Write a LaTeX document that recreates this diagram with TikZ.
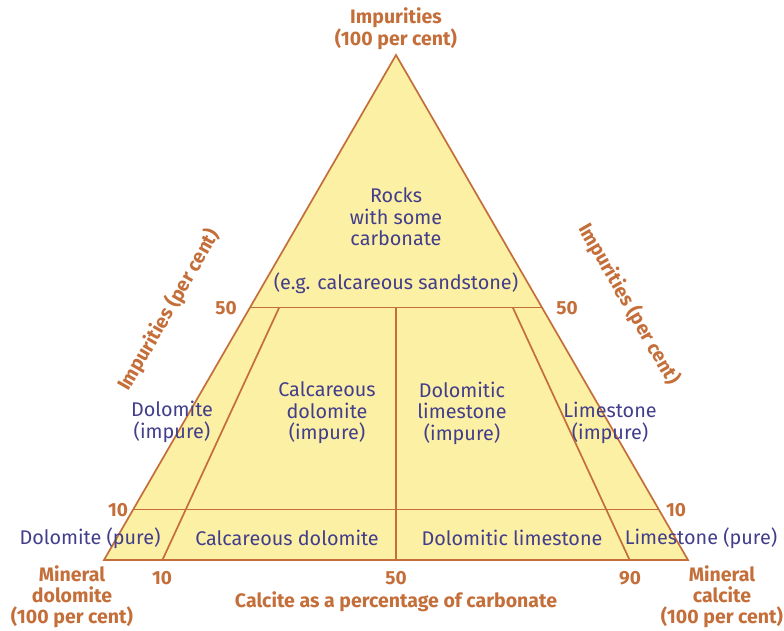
\documentclass[tikz,border=0pt]{standalone}
\usepackage{fontspec}
\setmainfont{Fira Sans}
\usetikzlibrary{calc}
\begin{document}
\begin{tikzpicture}[x=1pt,y=-1pt]
		% Couleurs et styles
		\definecolor{brique}{RGB}{196,110,58}
		\definecolor{sable}{RGB}{252,240,164}
		\definecolor{encre}{RGB}{66,62,140}
		\tikzstyle{trait}=[brique,line width=1.7pt,line join=miter]
		\tikzstyle{zone}=[encre,align=center,font=\fontsize{19.8}{21.5}\selectfont,inner sep=0pt]
		\tikzstyle{graduation}=[brique,font=\fontseries{sb}\fontsize{19}{20}\selectfont,inner sep=0pt]
		\tikzstyle{titre}=[brique,align=center,font=\fontseries{sb}\fontsize{19.5}{21}\selectfont,inner sep=0pt]
		% Dimensions
		\def\Gauche{104}
		\def\Droite{688}
		\def\Base{560}
		\def\Sommet{55}
		\useasboundingbox (0,0) rectangle (784,630);
		% Sommets et points
		\coordinate (A) at (396,\Sommet);
		\coordinate (D) at (\Gauche,\Base);
		\coordinate (C) at (\Droite,\Base);
		\coordinate (G50) at ($(D)!0.5!(A)$);
		\coordinate (D50) at ($(C)!0.5!(A)$);
		\coordinate (G10) at ($(D)!0.1!(A)$);
		\coordinate (D10) at ($(C)!0.1!(A)$);
		\coordinate (B10) at ($(D)!0.1!(C)$);
		\coordinate (B50) at ($(D)!0.5!(C)$);
		\coordinate (B90) at ($(D)!0.9!(C)$);
		\coordinate (H10) at ($(B10)!0.5!(A)$);
		\coordinate (H50) at ($(B50)!0.5!(A)$);
		\coordinate (H90) at ($(B90)!0.5!(A)$);
		% Triangle
		\fill[sable] (A)--(D)--(C)--cycle;
		\draw[trait] (G50)--(D50);
		\draw[trait] (G10)--(D10);
		\draw[trait] (B10)--(H10);
		\draw[trait] (B50)--(H50);
		\draw[trait] (B90)--(H90);
		\draw[trait] (A)--(D)--(C)--cycle;
		% Zones
		\node[zone] (roches) at (396,217) {Rocks\\with some\\carbonate};
		\node[zone] (exemple) at (396,283) {(e.g. calcareous sandstone)};
		\node[zone] (dolI) at (172,422) {Dolomite\\(impure)};
		\node[zone] (caldolI) at (327,413) {Calcareous\\dolomite\\(impure)};
		\node[zone] (dollimI) at (462,413) {Dolomitic\\limestone\\(impure)};
		\node[zone] (limI) at (610,423) {Limestone\\(impure)};
		\node[zone] (dolP) at (90,538) {Dolomite (pure)};
		\node[zone] (caldolP) at (287,538) {Calcareous dolomite};
		\node[zone] (dollimP) at (512,538) {Dolomitic limestone};
		\node[zone] (limP) at (701,538) {Limestone (pure)};
		% Graduations
		\node[graduation] (g50) at (226,308) {50};
		\node[graduation] (d50) at (567,308) {50};
		\node[graduation] (g10) at (118,510) {10};
		\node[graduation] (d10) at (676,510) {10};
		\node[graduation] (b10) at (162,578) {10};
		\node[graduation] (b50) at (396,578) {50};
		\node[graduation] (b90) at (630,578) {90};
		% Titres
		\node[titre] (impur) at (396,29) {Impurities\\(100 per cent)};
		\node[titre,rotate=60] (axeG) at (169,310) {Impurities (per cent)};
		\node[titre,rotate=-60] (axeD) at (629,304) {Impurities (per cent)};
		\node[titre] (dolomite) at (72,597) {Mineral\\dolomite\\(100 per cent)};
		\node[titre] (calcite) at (722,597) {Mineral\\calcite\\(100 per cent)};
		\node[titre] (axeB) at (396,602) {Calcite as a percentage of carbonate};
	\end{tikzpicture}
\end{document}
